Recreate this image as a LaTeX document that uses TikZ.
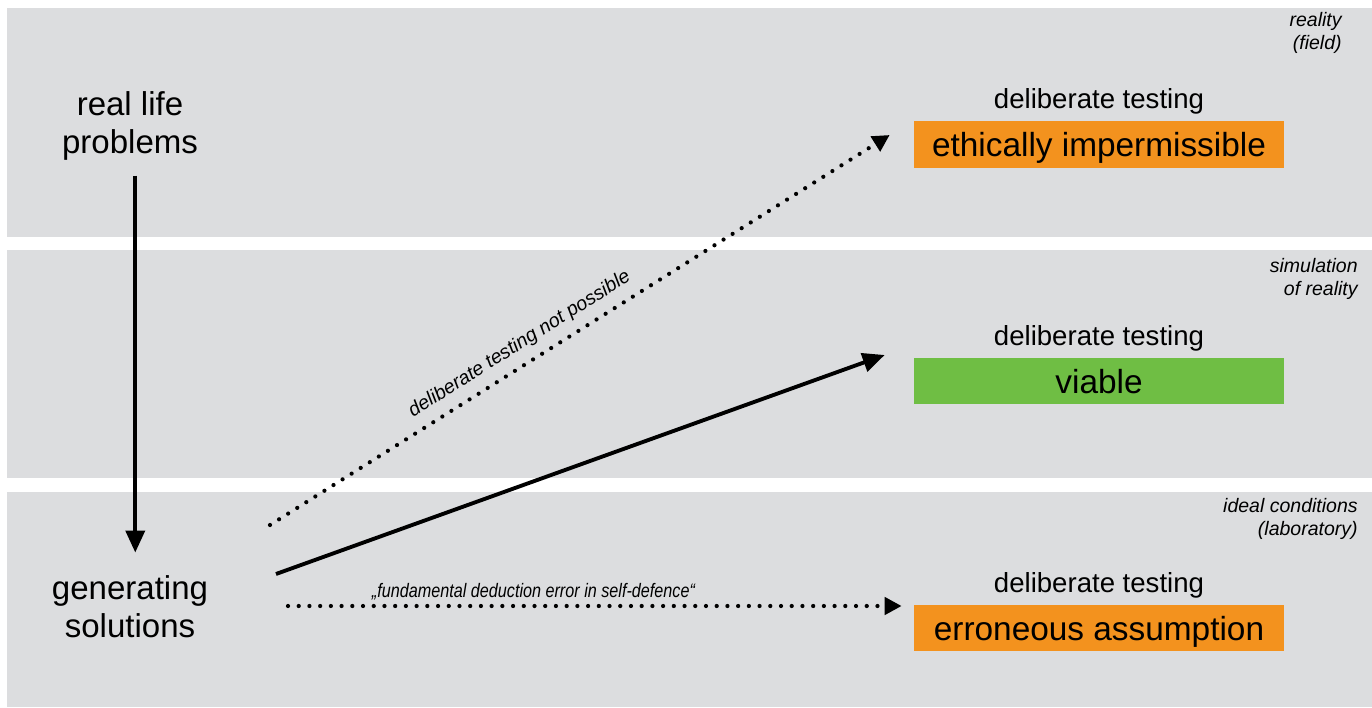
\documentclass[tikz,border=0pt]{standalone}
\usepackage{fontspec}
\setmainfont{Liberation Sans}
\usetikzlibrary{positioning,arrows.meta,calc}
\definecolor{bandgray}{RGB}{220,221,223}
\definecolor{testorange}{RGB}{243,146,30}
\definecolor{testgreen}{RGB}{111,190,68}
\begin{document}
\begin{tikzpicture}[x=0.02cm,y=0.02cm,font=\fontsize{18.8}{21.6}\selectfont,
    band/.style={fill=bandgray},
    result/.style={fill=#1,minimum width=7.4cm,minimum height=0.94cm,inner sep=0pt,text depth=0pt,font=\fontsize{19}{22}\selectfont},
    testing/.style={inner sep=0pt,font=\fontsize{15.7}{18}\selectfont},
    level/.style={anchor=east,align=right,inner sep=0pt,font=\fontsize{11.1}{13.1}\selectfont\itshape},
    note/.style={inner sep=1pt,font=\fontsize{11.1}{13.1}\selectfont\itshape},
    solid arrow/.style={line width=2.2pt,-{Triangle[length=0.44cm,width=0.38cm]}},
    dotted arrow/.style={line width=2.4pt,line cap=round,dash pattern=on 0pt off 6.1pt,-{Triangle[length=0.34cm,width=0.34cm]}}]
  \useasboundingbox (0,0) rectangle (1372,707);
  % the three levels
  \fill[band] (7,470) rectangle (1372,699);
  \fill[band] (7,229) rectangle (1372,457);
  \fill[band] (7,0) rectangle (1372,215);
  \node[level] (field) at (1342,674) {reality\\(field)};
  \node[level] (simulation) at (1358,428) {simulation\\of reality};
  \node[level] (laboratory) at (1358,188) {ideal conditions\\(laboratory)};
  % left column
  \node[align=center,inner sep=0pt] (problems) at (130,581) {real life\\problems};
  \node[align=center,inner sep=0pt] (solutions) at (130,100) {generating\\solutions};
  \draw[solid arrow,shorten <=0.3cm,shorten >=0.46cm] ([xshift=3]problems.south) -- ([xshift=3]solutions.north);
  % results of testing
  \node[result=testorange] (impermissible) at (1099,562.5) {ethically impermissible};
  \node[testing,above=0.12cm of impermissible] (test1) {deliberate testing};
  \node[result=testgreen] (viable) at (1099,326) {viable};
  \node[testing,above=0.12cm of viable] (test2) {deliberate testing};
  \node[result=testorange] (erroneous) at (1099,79) {erroneous assumption};
  \node[testing,above=0.12cm of erroneous] (test3) {deliberate testing};
  % arrows from the solutions
  \coordinate (out1) at (270,182);
  \coordinate (out2) at (276,133);
  \coordinate (out3) at (288,101);
  \draw[dotted arrow] (out1) -- ($(impermissible.west)+(-24,9.5)$)
    node[note,pos=0.42,sloped,above=4pt] {deliberate testing not possible};
  \draw[solid arrow] (out2) -- ($(viable.west)+(-29,26)$);
  \draw[dotted arrow] (out3) -- ($(erroneous.west)+(-12,22)$)
    node[note,pos=0.4,above=1.3pt] {\scalebox{0.83}[1]{„fundamental deduction error in self-defence“}};
\end{tikzpicture}
\end{document}
